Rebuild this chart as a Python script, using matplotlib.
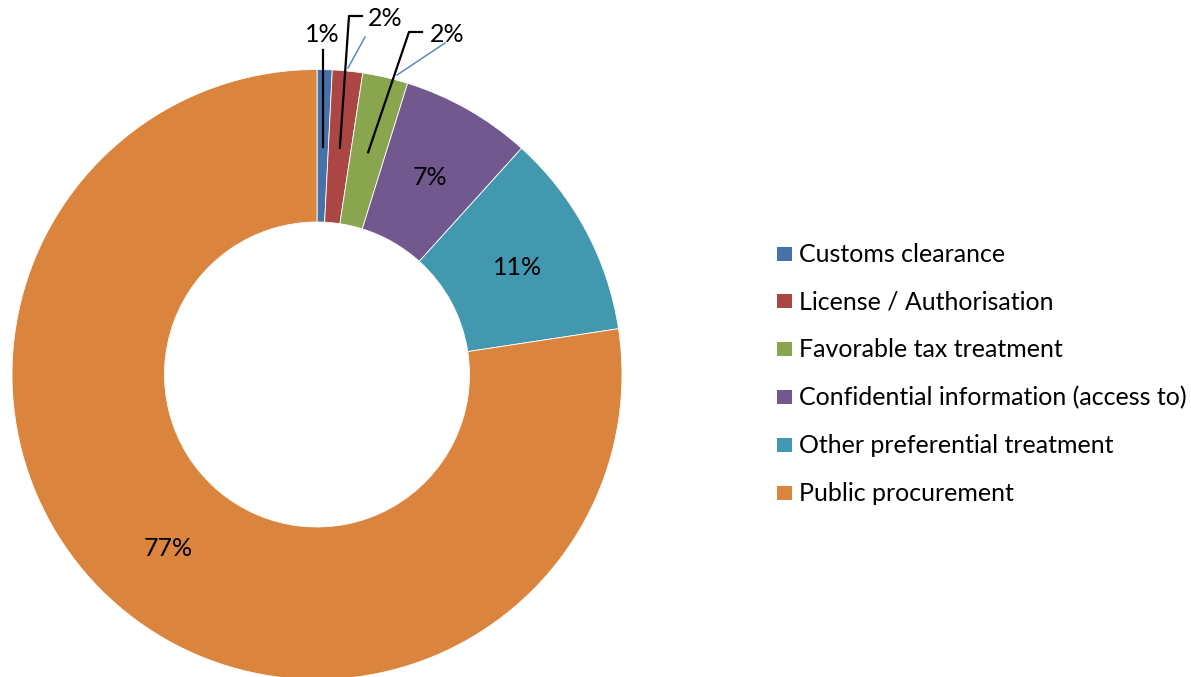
import matplotlib
matplotlib.use("Agg")
import matplotlib.pyplot as plt
from matplotlib.patches import Rectangle
import numpy as np

plt.rcParams["font.family"] = ["Lato", "DejaVu Sans"]

# datos (porcentaje de casos)
categorias = ["Customs clearance", "License / Authorisation", "Favorable tax treatment",
              "Confidential information (access to)", "Other preferential treatment",
              "Public procurement"]
valores = [0.8, 1.6, 2.4, 6.9, 10.9, 77.4]
colores = ["#4672A9", "#AA4644", "#89A54E", "#71588F", "#4198AF", "#DA843E"]

W, H = 1191, 677
fig = plt.figure(figsize=(W / 100, H / 100), dpi=100)
ax = fig.add_axes([0, 0, 1, 1])

cx, cy, R = 317, H - 374.5, 305
wedges, _ = ax.pie(valores, colors=colores, startangle=90, counterclock=False,
                   center=(cx, cy), radius=R, frame=True,
                   wedgeprops=dict(width=R * 0.5, edgecolor="white", linewidth=0.6))
ax.set_xlim(0, W)
ax.set_ylim(0, H)
ax.set_aspect("equal")
ax.axis("off")

FS = 18
MEDIA_CAP = 8.5   # media altura de mayusculas, en px: centra el texto como en Excel
r_lab = 228


def punto(w, r):
    ang = np.deg2rad((w.theta1 + w.theta2) / 2)
    return cx + r * np.cos(ang), cy + r * np.sin(ang)


def texto(x, y, s, **kw):
    # y es el centro visual de las cifras
    ax.text(x, y - MEDIA_CAP, s, va="baseline", fontsize=FS, **kw)


# etiquetas dentro del anillo para los sectores grandes
for w, v in zip(wedges[3:], valores[3:]):
    x, y = punto(w, r_lab)
    texto(x, y, f"{round(v)}%", ha="center")

# sectores pequenos: etiqueta arriba con linea guia (como en el original)
# (codo de la linea, posicion del texto) en pixeles, y desde arriba
guias = [
    (None, (322, 33)),
    ((349, 16), (385, 17)),
    ((409, 32), (447, 33)),
]
azul_guia = [None, ((348, 68), (365, 37)), ((397, 75), (445, 43))]
for w, v, (codo, lab), az in zip(wedges[:3], valores[:3], guias, azul_guia):
    x0, y0 = punto(w, r_lab)
    if codo is None:
        ax.plot([x0, x0], [y0, H - 50], color="black", lw=1.6)
    else:
        ax.plot([x0, codo[0], codo[0] + 13], [y0, H - codo[1], H - codo[1]],
                color="black", lw=1.6)
    if az is not None:
        ax.plot([az[0][0], az[1][0]], [H - az[0][1], H - az[1][1]],
                color="#4F81BD", lw=1)
    texto(lab[0], H - lab[1], f"{round(v)}%", ha="center")

# leyenda (lineas base de cada entrada, px desde arriba)
base_ley = [261.7, 309.3, 356.7, 405, 453.3, 500.7]
for cat, col, yb in zip(categorias, colores, base_ley):
    ax.add_patch(Rectangle((777, H - yb + 1), 15, 14, facecolor=col, edgecolor="none"))
    ax.text(799, H - yb, cat, ha="left", va="baseline", fontsize=FS)

fig.savefig("out.png", dpi=100)
